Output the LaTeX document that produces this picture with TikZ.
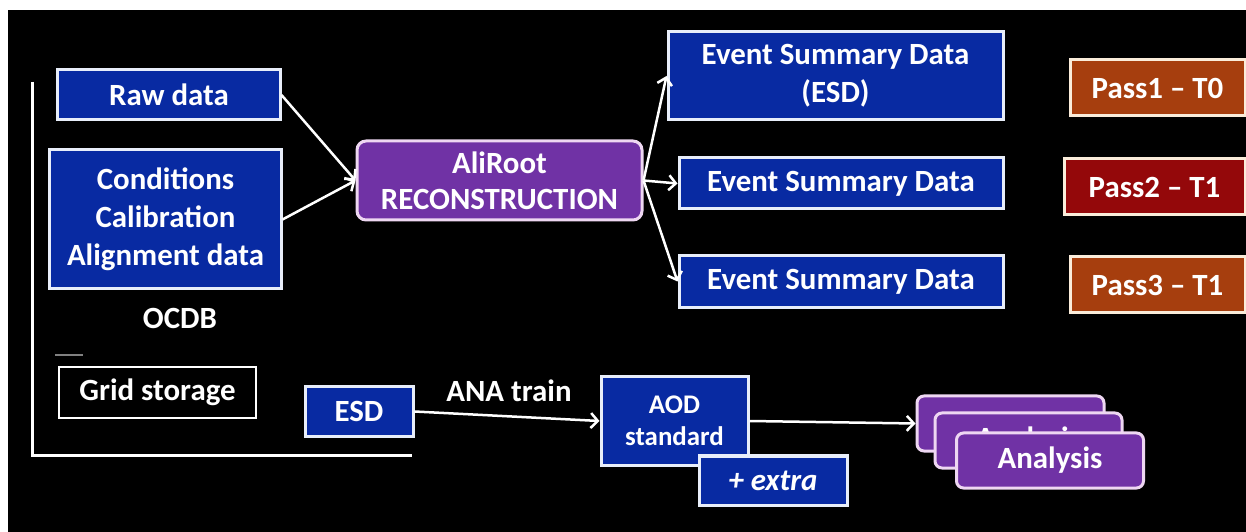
\documentclass[tikz,border=0pt]{standalone}
\usepackage{fontspec}
\setmainfont{Carlito}
\usetikzlibrary{shapes.geometric, arrows, arrows.meta}
\definecolor{slideBlue}{RGB}{8,42,162}
\definecolor{slidePurple}{RGB}{112,50,165}
\definecolor{purpleEdge}{RGB}{238,215,242}
\definecolor{passOrange}{RGB}{166,62,14}
\definecolor{passRed}{RGB}{148,8,10}
\definecolor{passEdge}{RGB}{250,236,218}
\definecolor{boxEdge}{RGB}{232,238,250}
\tikzstyle{dataBox} = [rectangle, fill=slideBlue, draw=boxEdge, line width=3bp, text=white, align=center, inner sep=0pt, font=\bfseries\fontsize{31}{38}\selectfont]
\tikzstyle{recoBox} = [rectangle, rounded corners=9bp, fill=slidePurple, draw=purpleEdge, line width=3bp, text=white, align=center, inner sep=0pt, font=\bfseries\fontsize{31}{36}\selectfont]
\tikzstyle{passBox} = [rectangle, draw=passEdge, line width=3bp, text=white, minimum height=56bp, inner sep=0pt, font=\bfseries\fontsize{31}{36}\selectfont]
\tikzstyle{anaBox} = [rectangle, rounded corners=7bp, fill=slidePurple, draw=purpleEdge, line width=3bp, text=white, minimum width=187bp, minimum height=55bp, inner sep=0pt, font=\bfseries\fontsize{31}{36}\selectfont]
\tikzstyle{plainText} = [text=white, inner sep=0pt, font=\bfseries\fontsize{31}{36}\selectfont]
\tikzstyle{arrow} = [line width=2.5bp, white, ->, >={Straight Barb[length=7bp, width=15bp]}]

\begin{document}
\begin{tikzpicture}[x=1bp, y=-1bp]
    % page and black slide
    \useasboundingbox (0,0) rectangle (1246,532);
    \fill[white] (0,0) rectangle (1246,532);
    \fill[black] (8,10) rectangle (1246,532);

    % inputs
    \node (raw) [dataBox, minimum width=222bp, minimum height=50bp] at (169,95) {Raw data};
    \node (cond) [dataBox, minimum width=231bp, minimum height=139bp] at (165.5,219.5) {Conditions\\Calibration\\Alignment data};
    \node (ocdb) [plainText] at (180,318) {OCDB};

    \node (aliroot) [recoBox, minimum width=285bp, minimum height=79bp] at (499.5,180.5) {AliRoot\\RECONSTRUCTION};

    % outputs of the passes
    \node (esd1) [dataBox, minimum width=335bp, minimum height=88bp] at (835.5,76) {Event Summary Data\\(ESD)};
    \node (esd2) [dataBox, minimum width=324bp, minimum height=51bp] at (841,183.5) {Event Summary Data};
    \node (esd3) [dataBox, minimum width=324bp, minimum height=51bp, below of=esd2, node distance=98bp] {Event Summary Data};

    \node (pass1) [passBox, fill=passOrange, minimum width=175bp] at (1157.5,88) {Pass1 – T0};
    \node (pass2) [passBox, fill=passRed, minimum width=181bp] at (1154.5,187) {Pass2 – T1};
    \node (pass3) [passBox, fill=passOrange, minimum width=175bp] at (1157.5,285) {Pass3 – T1};

    % grid part
    \coordinate (frameTop) at (32,82);
    \coordinate (frameCorner) at (32,455);
    \coordinate (frameEnd) at (412,455);
    \draw[white, line width=3bp] (frameTop) -- (frameCorner) -- (frameEnd);
    \draw[gray, line width=1.5bp] (55,355) -- (83,355);

    \node (grid) [rectangle, draw=white, line width=2bp, fill=black, minimum width=197bp, minimum height=51bp, plainText] at (157.5,392.5) {Grid storage};
    \node (esd) [dataBox, minimum width=108bp, minimum height=49bp] at (359,411.5) {ESD};
    \node (anatrain) [plainText] at (509,391) {ANA train};

    \node (aod) [dataBox, minimum width=147bp, minimum height=88bp, font=\bfseries\fontsize{27}{32}\selectfont] at (674.5,421) {AOD\\standard};
    \node (extra) [dataBox, minimum width=148bp, minimum height=49bp, font=\bfseries\itshape\fontsize{31}{36}\selectfont] at (773,480.5) {+ extra};

    \node (ana1) [anaBox] at (1010.5,423.5) {};
    \node (ana2) [anaBox] at (1028.5,440.5) {Analysis};
    \node (ana3) [anaBox] at (1050,460.5) {Analysis};

    \draw[arrow] (raw.east) -- (aliroot.west);
    \draw[arrow] (cond.east) -- (aliroot.west);
    \draw[arrow] (aliroot.east) -- (esd1.west);
    \draw[arrow] (aliroot.east) -- (esd2.west);
    \draw[arrow] (aliroot.east) -- (esd3.west);
    \draw[arrow] (esd.east) -- (aod.west);
    \draw[arrow] (aod.east) -- (ana1.west);

\end{tikzpicture}
\end{document}
